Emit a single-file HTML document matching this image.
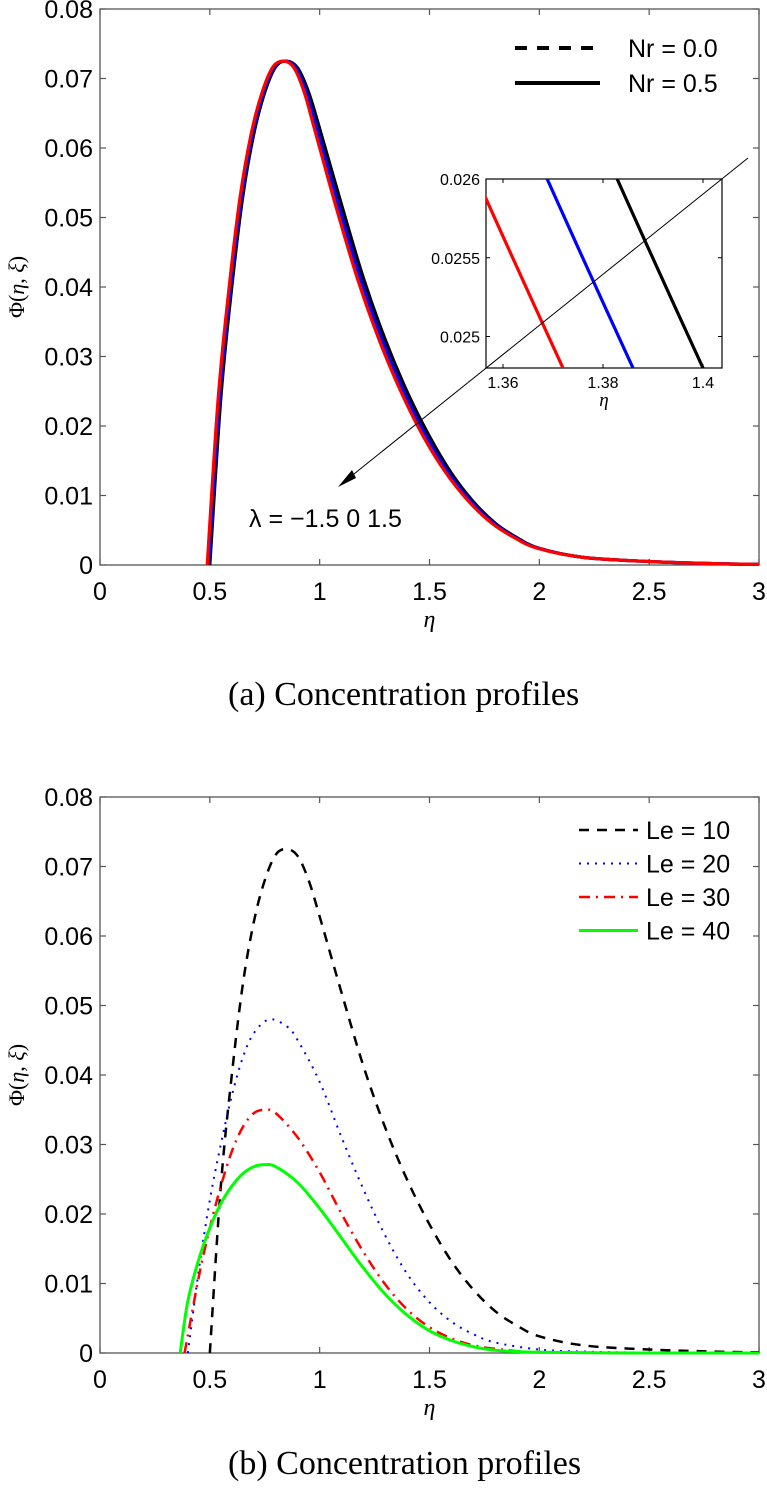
<!DOCTYPE html>
<html><head><meta charset="utf-8"><style>
html,body{margin:0;padding:0;background:#fff;overflow:hidden;}
svg{display:block;}
text{font-family:"Liberation Sans",sans-serif;fill:#000;}
.cap{font-family:"Liberation Serif",serif;font-size:34px;}
.it{font-family:"Liberation Serif",serif;font-style:italic;}
</style></head><body>
<svg id="fig" width="767" height="1490" viewBox="0 0 767 1490" xmlns="http://www.w3.org/2000/svg">
<g id="ga"></g>
<g id="gb"></g>
<text class="cap" x="228" y="705">(a)  Concentration profiles</text>
<text class="cap" x="228" y="1474">(b)  Concentration profiles</text>
</svg>
<script>
// ---- data ----
const xTicks = [0, 0.5, 1, 1.5, 2, 2.5, 3];
const xTickLabels = ["0", "0.5", "1", "1.5", "2", "2.5", "3"];
const yTicks = [0, 0.01, 0.02, 0.03, 0.04, 0.05, 0.06, 0.07, 0.08];
const yTickLabels = ["0", "0.01", "0.02", "0.03", "0.04", "0.05", "0.06", "0.07", "0.08"];
const insetXTicks = [1.36, 1.38, 1.4];
const insetXLabels = ["1.36", "1.38", "1.4"];
const insetYTicks = [0.025, 0.0255, 0.026];
const insetYLabels = ["0.025", "0.0255", "0.026"];
// chart a: Le=10, lambda = 1.5 (black), 0 (blue), -1.5 (red)
const phiA = [0, 0.024, 0.04, 0.053, 0.062, 0.068, 0.0717, 0.0725, 0.0715, 0.068, 0.0628, 0.0518, 0.0412, 0.0323, 0.0248, 0.0185, 0.0132, 0.0091, 0.006, 0.0039, 0.0024, 0.0011, 0.0005, 0.0002, 0.0001];
const etaBlack = [0.5, 0.55, 0.6, 0.65, 0.7, 0.75, 0.8, 0.85, 0.9, 0.95, 1.0, 1.1, 1.2, 1.3, 1.4, 1.5, 1.6, 1.7, 1.8, 1.9, 2.0, 2.2, 2.5, 2.8, 3.0];
const etaBlue  = [0.494, 0.544, 0.594, 0.644, 0.694, 0.744, 0.794, 0.844, 0.892, 0.94, 0.988, 1.086, 1.186, 1.286, 1.386, 1.486, 1.588, 1.69, 1.792, 1.894, 1.996, 2.2, 2.5, 2.8, 3.0];
const etaRed   = [0.488, 0.538, 0.588, 0.638, 0.688, 0.738, 0.788, 0.838, 0.884, 0.93, 0.976, 1.072, 1.172, 1.272, 1.372, 1.472, 1.576, 1.68, 1.784, 1.888, 1.992, 2.2, 2.5, 2.8, 3.0];
// chart b
const etaLe10 = [0.5, 0.55, 0.6, 0.65, 0.7, 0.75, 0.8, 0.85, 0.9, 0.95, 1.0, 1.1, 1.2, 1.3, 1.4, 1.5, 1.6, 1.7, 1.8, 1.9, 2.0, 2.2, 2.5, 2.8, 3.0];
const phiLe10 = [0, 0.024, 0.04, 0.053, 0.062, 0.068, 0.0717, 0.0725, 0.0715, 0.068, 0.0628, 0.0518, 0.0412, 0.0323, 0.0248, 0.0185, 0.0132, 0.0091, 0.006, 0.0039, 0.0024, 0.0011, 0.0005, 0.0002, 0.0001];
const etaLe20 = [0.4, 0.45, 0.5, 0.55, 0.6, 0.65, 0.7, 0.77, 0.85, 0.9, 1.0, 1.1, 1.2, 1.3, 1.4, 1.5, 1.6, 1.7, 1.8, 2.0, 2.2, 2.5, 3.0];
const phiLe20 = [0, 0.012, 0.022, 0.03, 0.037, 0.0425, 0.046, 0.048, 0.047, 0.045, 0.039, 0.031, 0.0235, 0.0168, 0.0113, 0.0073, 0.0045, 0.0027, 0.0015, 0.0005, 0.0002, 0.00005, 0];
const etaLe30 = [0.385, 0.45, 0.5, 0.55, 0.6, 0.65, 0.7, 0.75, 0.8, 0.9, 1.0, 1.1, 1.2, 1.3, 1.4, 1.5, 1.6, 1.7, 1.8, 2.0, 2.5, 3.0];
const phiLe30 = [0, 0.011, 0.018, 0.024, 0.029, 0.0325, 0.0345, 0.035, 0.0345, 0.031, 0.026, 0.02, 0.0145, 0.0098, 0.0062, 0.0037, 0.0021, 0.0011, 0.0006, 0.0001, 0, 0];
const etaLe40 = [0.365, 0.4, 0.45, 0.5, 0.55, 0.6, 0.65, 0.7, 0.75, 0.8, 0.9, 1.0, 1.1, 1.2, 1.3, 1.4, 1.5, 1.6, 1.7, 1.8, 2.0, 2.5, 3.0];
const phiLe40 = [0, 0.0075, 0.0135, 0.018, 0.0215, 0.024, 0.0258, 0.0268, 0.0271, 0.0268, 0.0245, 0.0208, 0.0165, 0.0122, 0.0084, 0.0054, 0.0032, 0.0018, 0.0009, 0.0004, 0.0001, 0, 0];

const NS = "http://www.w3.org/2000/svg";
function mk(parent, tag, attrs){ const e=document.createElementNS(NS,tag); for(const k in attrs) e.setAttribute(k,attrs[k]); parent.appendChild(e); return e; }

function axes(g, L, R, B, T){
  const xs = v => L + (v - xTicks[0]) / (xTicks[xTicks.length-1]-xTicks[0]) * (R - L);
  const ys = v => B - (v - yTicks[0]) / (yTicks[yTicks.length-1]-yTicks[0]) * (B - T);
  const box = mk(g,'rect',{x:L,y:T,width:R-L,height:B-T,fill:'none',stroke:'#555','stroke-width':1.3});
   
  xTicks.forEach((v,i)=>{
    mk(g,'line',{x1:xs(v),x2:xs(v),y1:B,y2:B-6,stroke:'#555','stroke-width':1.2});
    mk(g,'line',{x1:xs(v),x2:xs(v),y1:T,y2:T+6,stroke:'#555','stroke-width':1.2});
    const t=mk(g,'text',{x:xs(v),y:B+35,'text-anchor':'middle','font-size':25});
    t.textContent=xTickLabels[i];
     
  });
  yTicks.forEach((v,i)=>{
    mk(g,'line',{x1:L,x2:L+6,y1:ys(v),y2:ys(v),stroke:'#555','stroke-width':1.2});
    mk(g,'line',{x1:R,x2:R-6,y1:ys(v),y2:ys(v),stroke:'#555','stroke-width':1.2});
    const t=mk(g,'text',{x:L-7,y:ys(v)+9,'text-anchor':'end','font-size':25});
    t.textContent=yTickLabels[i];
     
  });
  const xl=mk(g,'text',{x:(xs(1.5)),y:B+62,'text-anchor':'middle','font-size':24,class:'it'});
  xl.textContent='η';
   
  const cy=(T+B)/2;
  const yl=mk(g,'text',{x:0,y:0,'text-anchor':'middle','font-size':22,transform:`translate(24,${cy}) rotate(-90)`,class:'it'});
  yl.innerHTML='<tspan font-style="normal">Φ(</tspan>η<tspan font-style="normal">, </tspan>ξ<tspan font-style="normal">)</tspan>';
   
  return {xs,ys};
}
function path(g, xa, ya, xs, ys, style){
  const P=xa.map((x,i)=>[xs(x),ys(ya[i])]);
  let d='M'+P[0][0].toFixed(2)+','+P[0][1].toFixed(2);
  for(let i=0;i<P.length-1;i++){
    const p0=P[Math.max(0,i-1)],p1=P[i],p2=P[i+1],p3=P[Math.min(P.length-1,i+2)];
    const c1=[p1[0]+(p2[0]-p0[0])/6,p1[1]+(p2[1]-p0[1])/6];
    const c2=[p2[0]-(p3[0]-p1[0])/6,p2[1]-(p3[1]-p1[1])/6];
    d+='C'+c1[0].toFixed(2)+','+c1[1].toFixed(2)+' '+c2[0].toFixed(2)+','+c2[1].toFixed(2)+' '+p2[0].toFixed(2)+','+p2[1].toFixed(2);
  }
  return mk(g,'path',Object.assign({d:d,fill:'none','stroke-linejoin':'round'},style));
}

// ---- chart a ----
const ga=document.getElementById('ga');
const A=axes(ga,100,759,565,9);
const cA=[['line-lambda-1.5',etaBlack,'#000'],['line-lambda-0',etaBlue,'#00f'],['line-lambda-minus-1.5',etaRed,'#f00']];
cA.forEach(c=>{
  const p=path(ga,c[1],phiA,A.xs,A.ys,{stroke:c[2],'stroke-width':3.2});
   
});
const lgA=mk(ga,'g',{});
 
mk(lgA,'line',{x1:515,x2:600,y1:48,y2:48,stroke:'#000','stroke-width':4,'stroke-dasharray':'12,10'});
mk(lgA,'line',{x1:515,x2:600,y1:83,y2:83,stroke:'#000','stroke-width':4});
const la1=mk(lgA,'text',{x:628,y:57,'font-size':25}); la1.textContent='Nr = 0.0';
 
const la2=mk(lgA,'text',{x:628,y:92,'font-size':25}); la2.textContent='Nr = 0.5';
 
const lam=mk(ga,'text',{x:249,y:527,'font-size':25}); lam.textContent='λ = −1.5 0 1.5';
 

// inset
const iL=486,iR=722,iT=179,iB=368;
const ix0=1.3566, ix1=1.4038, iy0=0.0248, iy1=0.026;
const ixs=v=>iL+(v-ix0)/(ix1-ix0)*(iR-iL);
const iys=v=>iB-(v-iy0)/(iy1-iy0)*(iB-iT);
const gi=mk(ga,'g',{});
 
mk(gi,'rect',{x:iL,y:iT,width:iR-iL,height:iB-iT,fill:'#fff',stroke:'#000','stroke-width':1.2});
const defs=mk(gi,'defs',{});
const cp=mk(defs,'clipPath',{id:'ic'}); mk(cp,'rect',{x:iL,y:iT,width:iR-iL,height:iB-iT});
const gic=mk(gi,'g',{'clip-path':'url(#ic)'});
cA.forEach(c=>{
  const p=path(gic,c[1],phiA,ixs,iys,{stroke:c[2],'stroke-width':3.2});
   
});
insetXTicks.forEach((v,i)=>{
  mk(gi,'line',{x1:ixs(v),x2:ixs(v),y1:iB,y2:iB-4,stroke:'#000'});
  mk(gi,'line',{x1:ixs(v),x2:ixs(v),y1:iT,y2:iT+4,stroke:'#000'});
  const t=mk(gi,'text',{x:ixs(v),y:iB+20,'text-anchor':'middle','font-size':16}); t.textContent=insetXLabels[i];
   
});
insetYTicks.forEach((v,i)=>{
  mk(gi,'line',{x1:iL,x2:iL+4,y1:iys(v),y2:iys(v),stroke:'#000'});
  mk(gi,'line',{x1:iR,x2:iR-4,y1:iys(v),y2:iys(v),stroke:'#000'});
  const t=mk(gi,'text',{x:iL-6,y:iys(v)+6,'text-anchor':'end','font-size':16}); t.textContent=insetYLabels[i];
   
});
const ie=mk(gi,'text',{x:(iL+iR)/2,y:iB+38,'text-anchor':'middle','font-size':19,class:'it'}); ie.textContent='η';
 
const ar=mk(ga,'line',{x1:748,y1:158,x2:344,y2:482,stroke:'#000','stroke-width':1});
 
mk(ga,'polygon',{points:'338,487 352,470 356,478',fill:'#000'});

// ---- chart b ----
const gb=document.getElementById('gb');
const Bx=axes(gb,100,759,1353,797);
const cB=[
 ['line-le-10',etaLe10,phiLe10,{stroke:'#000','stroke-width':2.5,'stroke-dasharray':'10,8'}],
 ['line-le-20',etaLe20,phiLe20,{stroke:'#00f','stroke-width':2,'stroke-dasharray':'2,6'}],
 ['line-le-30',etaLe30,phiLe30,{stroke:'#f00','stroke-width':2.5,'stroke-dasharray':'11,6,2,6'}],
 ['line-le-40',etaLe40,phiLe40,{stroke:'#0f0','stroke-width':3}]
];
cB.forEach(c=>{
  const p=path(gb,c[1],c[2],Bx.xs,Bx.ys,c[3]);
   
});
const lgB=mk(gb,'g',{});
 
const leLabels=['Le = 10','Le = 20','Le = 30','Le = 40'];
leLabels.forEach((lab,i)=>{
  const y=830+i*33.5;
  mk(lgB,'line',Object.assign({x1:579,x2:638,y1:y,y2:y},cB[i][3]));
  const t=mk(lgB,'text',{x:646,y:y+9,'font-size':25}); t.textContent=lab;
   
});
</script>
</body></html>
